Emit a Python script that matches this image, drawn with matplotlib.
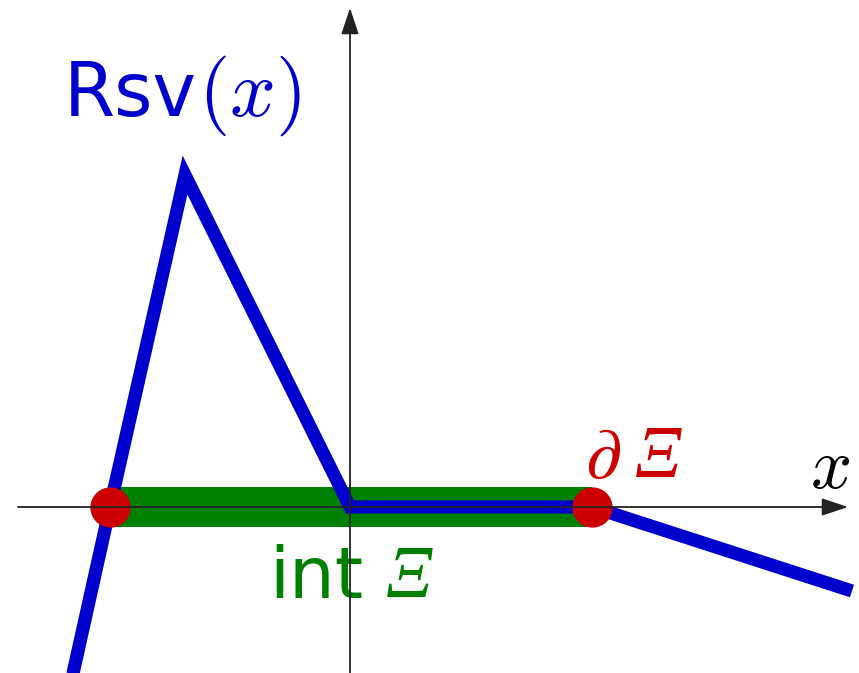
import matplotlib
matplotlib.use("Agg")
import matplotlib.pyplot as plt

plt.rcParams["mathtext.fontset"] = "cm"
plt.rcParams["font.family"] = ["DejaVu Sans"]

# residual function, piecewise linear
rsv_x = [-2.80, -2.40, -1.65, 0.0, 2.42, 5.02]
rsv_y = [-1.80, 0.0, 3.32, 0.0, 0.0, -0.84]

# interior of Xi and its two boundary points
xi_lo, xi_hi = -2.40, 2.42
boundary = [xi_lo, xi_hi]

blue = "#0000cc"
green = "#008000"
red = "#cc0000"

fig = plt.figure(figsize=(8.59, 6.73), dpi=100)
ax = fig.add_axes([0, 0, 1, 1])
ax.set_xlim(-3.50, 5.09)
ax.set_ylim(-1.66, 5.07)
ax.axis("off")

# int Xi as a thick bar on the axis
ax.plot([xi_lo, xi_hi], [0, 0], color=green, lw=28.8, solid_capstyle="butt", zorder=1)
ax.plot(rsv_x, rsv_y, color=blue, lw=9.5, solid_joinstyle="miter",
        solid_capstyle="butt", zorder=2)
ax.plot(boundary, [0, 0], "o", color=red, ms=29, mec="none", zorder=3)

# coordinate axes with arrow heads
arr = dict(arrowstyle="-|>,head_length=0.6,head_width=0.2", color="#222222",
           lw=1.3, mutation_scale=27, shrinkA=0, shrinkB=0)
ax.annotate("", xy=(4.98, 0), xytext=(-3.32, 0), arrowprops=arr, zorder=4)
ax.annotate("", xy=(0, 4.99), xytext=(0, -1.70), arrowprops=arr, zorder=4)

# labels
xi_font = dict(family="Liberation Serif", style="italic")
ax.text(-2.86, 3.91, "Rsv", color=blue, fontsize=53, ha="left", va="baseline")
ax.text(-1.52, 3.91, r"$(x)$", color=blue, fontsize=58, ha="left", va="baseline")
ax.text(-0.805, -0.91, "int", color=green, fontsize=52, ha="left", va="baseline")
ax.text(0.36, -0.90, "Ξ", color=green, fontsize=53, ha="left", va="baseline", **xi_font)
ax.text(2.35, 0.29, r"$\partial$", color=red, fontsize=52, ha="left", va="baseline")
ax.text(2.85, 0.30, "Ξ", color=red, fontsize=53, ha="left", va="baseline", **xi_font)
ax.text(4.60, 0.19, r"$x$", color="black", fontsize=52, ha="left", va="baseline")

fig.savefig("out.png", dpi=100)
